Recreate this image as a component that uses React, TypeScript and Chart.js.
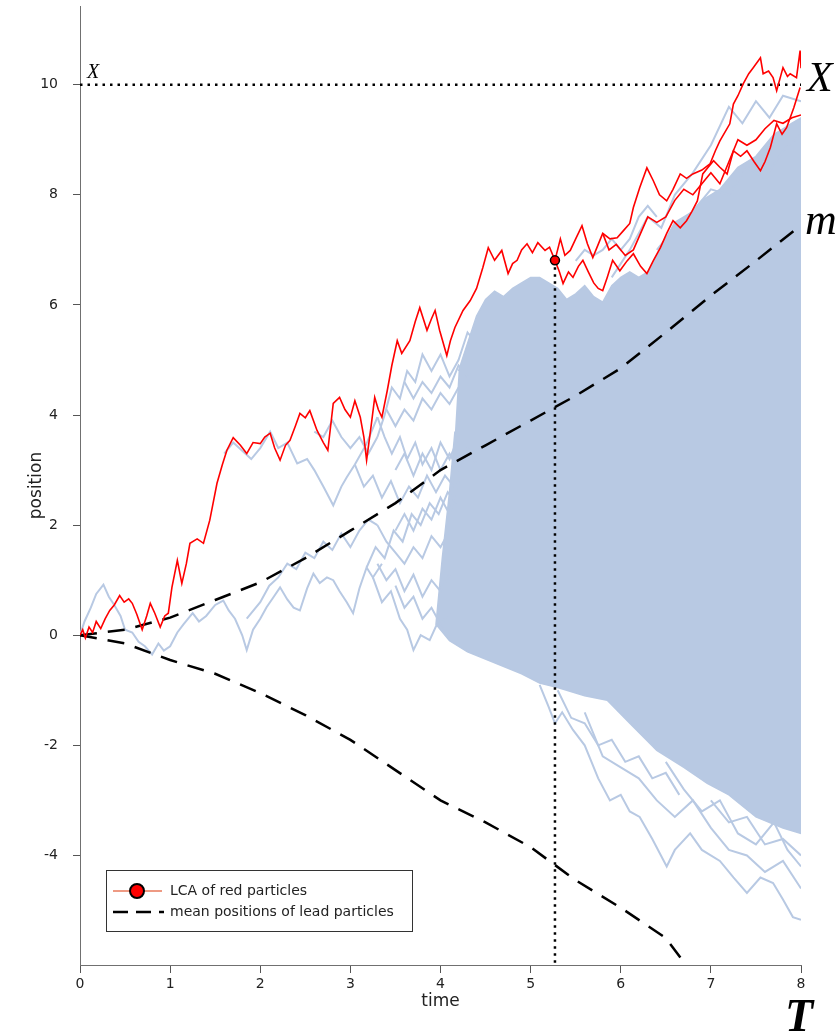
import React, { useEffect, useRef } from "react";
import { Chart, registerables } from "chart.js";
Chart.register(...registerables);

const BLUE = "#b8c9e3";
const RED = "#ff0000";

// axis ticks
const xTicks = [0, 1, 2, 3, 4, 5, 6, 7, 8];
const yTicks = [-4, -2, 0, 2, 4, 6, 8, 10];

// LCA time and position, target level X
const lcaT = 5.27;
const lcaY = 6.81;
const levelX = 10;

// red path up to the LCA
const redMainT = [0, 0.03, 0.06, 0.1, 0.14, 0.18, 0.23, 0.28, 0.33, 0.38, 0.44, 0.49, 0.54, 0.58, 0.63, 0.69, 0.74, 0.78, 0.83, 0.89, 0.94, 0.98, 1.02, 1.08, 1.13, 1.18, 1.22, 1.3, 1.37, 1.44, 1.52, 1.58, 1.63, 1.7, 1.78, 1.85, 1.92, 2.0, 2.05, 2.11, 2.16, 2.22, 2.28, 2.33, 2.39, 2.44, 2.5, 2.55, 2.63, 2.7, 2.75, 2.81, 2.88, 2.94, 3.0, 3.05, 3.11, 3.15, 3.18, 3.23, 3.27, 3.31, 3.35, 3.41, 3.46, 3.52, 3.57, 3.66, 3.72, 3.77, 3.85, 3.9, 3.94, 3.99, 4.07, 4.11, 4.16, 4.25, 4.33, 4.4, 4.47, 4.53, 4.6, 4.68, 4.75, 4.8, 4.85, 4.9, 4.96, 5.02, 5.08, 5.16, 5.21, 5.27];
const redMainY = [0, 0.1, -0.05, 0.15, 0.05, 0.25, 0.12, 0.3, 0.45, 0.55, 0.72, 0.6, 0.66, 0.58, 0.38, 0.1, 0.35, 0.58, 0.4, 0.15, 0.35, 0.4, 0.87, 1.36, 0.94, 1.3, 1.67, 1.75, 1.67, 2.09, 2.76, 3.1, 3.36, 3.59, 3.45, 3.3, 3.5, 3.48, 3.6, 3.67, 3.4, 3.18, 3.45, 3.54, 3.8, 4.03, 3.95, 4.08, 3.72, 3.5, 3.36, 4.21, 4.32, 4.1, 3.96, 4.26, 3.96, 3.6, 3.18, 3.8, 4.32, 4.1, 3.96, 4.45, 4.9, 5.35, 5.12, 5.35, 5.7, 5.95, 5.54, 5.75, 5.9, 5.54, 5.08, 5.35, 5.59, 5.9, 6.08, 6.3, 6.68, 7.04, 6.81, 6.99, 6.57, 6.75, 6.81, 7.0, 7.11, 6.95, 7.13, 6.99, 7.05, 6.81];

// red branches after the LCA
const redAT = [5.27, 5.33, 5.38, 5.44, 5.5, 5.57, 5.63, 5.69, 5.75, 5.8, 5.88, 5.96, 6.03, 6.1, 6.14, 6.21, 6.29, 6.36, 6.43, 6.51, 6.58, 6.66, 6.73, 6.8, 6.9, 6.99, 7.05, 7.1, 7.21, 7.25, 7.3, 7.36, 7.42, 7.47, 7.55, 7.58, 7.64, 7.69, 7.73, 7.8, 7.85, 7.88, 7.95, 7.99, 8.0];
const redAY = [6.81, 7.2, 6.9, 6.99, 7.2, 7.44, 7.11, 6.86, 7.1, 7.3, 7.2, 7.22, 7.35, 7.48, 7.77, 8.13, 8.49, 8.26, 8.0, 7.89, 8.1, 8.38, 8.3, 8.38, 8.45, 8.56, 8.8, 8.98, 9.29, 9.65, 9.8, 10.02, 10.2, 10.31, 10.49, 10.2, 10.25, 10.13, 9.89, 10.31, 10.15, 10.2, 10.13, 10.62, 10.3];
const redBT = [5.27, 5.32, 5.36, 5.42, 5.47, 5.53, 5.58, 5.64, 5.7, 5.75, 5.8, 5.85, 5.91, 5.99, 6.07, 6.14, 6.22, 6.29, 6.36, 6.44, 6.51, 6.58, 6.66, 6.73, 6.79, 6.85, 6.91, 6.97, 7.03, 7.1, 7.18, 7.25, 7.33, 7.4, 7.48, 7.55, 7.6, 7.66, 7.73, 7.79, 7.84, 7.92, 7.99];
const redBY = [6.81, 6.6, 6.39, 6.6, 6.5, 6.7, 6.81, 6.6, 6.4, 6.3, 6.26, 6.5, 6.81, 6.62, 6.8, 6.93, 6.7, 6.57, 6.8, 7.04, 7.3, 7.53, 7.4, 7.53, 7.7, 7.89, 8.38, 8.5, 8.62, 8.5, 8.38, 8.8, 8.7, 8.8, 8.6, 8.44, 8.6, 8.86, 9.29, 9.1, 9.22, 9.58, 9.95];
const redCT = [5.8, 5.87, 5.95, 6.05, 6.14, 6.22, 6.3, 6.4, 6.5, 6.6, 6.7, 6.8, 6.9, 7.0, 7.1, 7.2, 7.3, 7.4, 7.5, 7.6, 7.7, 7.8, 7.9, 8.0];
const redCY = [7.3, 7.0, 7.1, 6.9, 7.0, 7.3, 7.6, 7.5, 7.6, 7.9, 8.1, 8.0, 8.2, 8.4, 8.2, 8.6, 9.0, 8.9, 9.0, 9.2, 9.35, 9.3, 9.4, 9.45];

// mean positions of lead particles (upper and lower)
const meanT = [0, 0.5, 1, 1.5, 2, 2.5, 3, 3.5, 4, 4.5, 5, 5.5, 6, 6.5, 7, 7.5, 8];
const meanUpY = [0, 0.1, 0.32, 0.64, 0.96, 1.4, 1.9, 2.4, 3.0, 3.45, 3.9, 4.35, 4.85, 5.5, 6.17, 6.8, 7.45];
const meanLowY = [0, -0.15, -0.45, -0.7, -1.05, -1.45, -1.9, -2.45, -3.0, -3.4, -3.85, -4.45, -4.95, -5.5, -6.6, -7.3, -8.0];

// dense cloud of other particles (outline)
const cloudT = [4.2, 4.3, 4.4, 4.5, 4.6, 4.7, 4.8, 4.9, 5.0, 5.1, 5.2, 5.3, 5.4, 5.5, 5.6, 5.7, 5.8, 5.9, 6.0, 6.1, 6.2, 6.3, 6.4, 6.5, 6.6, 6.7, 6.8, 6.9, 7.0, 7.1, 7.2, 7.3, 7.4, 7.5, 7.6, 7.7, 7.8, 7.9, 8.0, 8.0, 7.8, 7.5, 7.2, 6.96, 6.7, 6.4, 6.1, 5.85, 5.6, 5.3, 5.1, 4.9, 4.6, 4.3, 4.1, 3.95, 4.02, 4.1, 4.16];
const cloudY = [4.8, 5.3, 5.8, 6.1, 6.25, 6.15, 6.3, 6.4, 6.5, 6.5, 6.4, 6.3, 6.1, 6.2, 6.35, 6.15, 6.05, 6.35, 6.5, 6.6, 6.5, 6.6, 6.9, 7.2, 7.5, 7.6, 7.7, 7.9, 8.0, 8.1, 8.3, 8.5, 8.6, 8.7, 8.9, 9.1, 9.2, 9.3, 9.4, -3.6, -3.5, -3.3, -2.9, -2.69, -2.4, -2.09, -1.6, -1.18, -1.1, -0.95, -0.87, -0.7, -0.5, -0.3, -0.1, 0.2, 1.4, 2.6, 3.7];

// individual other particles
const b1T = [0, 0.05, 0.12, 0.18, 0.26, 0.32, 0.38, 0.45, 0.5, 0.58, 0.65, 0.72, 0.8, 0.87, 0.93, 1.0, 1.08, 1.15, 1.25, 1.32, 1.4, 1.5, 1.59, 1.65, 1.72, 1.8, 1.85, 1.92, 2.0, 2.07, 2.15, 2.22, 2.3, 2.37, 2.44, 2.52, 2.59, 2.66, 2.74, 2.81, 2.88, 2.96, 3.03, 3.1, 3.18, 3.25, 3.35];
const b1Y = [0, 0.25, 0.5, 0.75, 0.92, 0.7, 0.55, 0.35, 0.1, 0.05, -0.12, -0.2, -0.35, -0.15, -0.28, -0.2, 0.05, 0.2, 0.4, 0.25, 0.35, 0.55, 0.63, 0.45, 0.3, 0.0, -0.27, 0.1, 0.3, 0.51, 0.7, 0.87, 0.65, 0.5, 0.45, 0.85, 1.12, 0.95, 1.05, 1.0, 0.8, 0.6, 0.4, 0.85, 1.23, 1.05, 1.3];
const b2T = [1.6, 1.7, 1.8, 1.9, 2.0, 2.11, 2.2, 2.3, 2.41, 2.52, 2.6, 2.7, 2.81, 2.9, 2.96, 3.05, 3.18, 3.3];
const b2Y = [3.3, 3.5, 3.35, 3.2, 3.4, 3.7, 3.4, 3.5, 3.12, 3.2, 3.0, 2.7, 2.36, 2.7, 2.87, 3.1, 3.48, 3.96];
const b3T = [2.6, 2.7, 2.8, 2.9, 3.0, 3.1, 3.2, 3.3];
const b3Y = [3.7, 3.6, 3.9, 3.6, 3.4, 3.6, 3.3, 3.6];
const b4T = [1.85, 2.0, 2.1, 2.2, 2.3, 2.4, 2.5, 2.6, 2.7, 2.8, 2.9, 3.0, 3.1, 3.2, 3.3];
const b4Y = [0.3, 0.6, 0.9, 1.05, 1.3, 1.2, 1.5, 1.4, 1.7, 1.55, 1.85, 1.6, 1.9, 2.1, 2.0];
const m1T = [3.18, 3.28, 3.38, 3.48, 3.58, 3.68, 3.78, 3.88, 3.98, 4.08, 4.18];
const m1Y = [1.23, 1.6, 1.4, 1.9, 1.7, 2.2, 2.0, 2.4, 2.2, 2.6, 2.4];
const m2T = [3.25, 3.35, 3.45, 3.55, 3.63, 3.7, 3.78, 3.88, 3.96, 4.05];
const m2Y = [1.05, 0.6, 0.8, 0.3, 0.1, -0.27, 0.0, -0.09, 0.2, 0.1];
const m3T = [3.05, 3.15, 3.25, 3.35, 3.45, 3.55, 3.65, 3.75, 3.85, 3.95, 4.05, 4.15];
const m3Y = [3.1, 2.7, 2.9, 2.5, 2.8, 2.4, 2.7, 2.5, 2.9, 2.6, 2.9, 2.7];
const m4T = [3.3, 3.38, 3.46, 3.55, 3.63, 3.72, 3.8, 3.9, 4.0, 4.1, 4.2, 4.3, 4.4];
const m4Y = [3.96, 3.6, 3.3, 3.6, 3.2, 3.5, 3.1, 3.4, 3.0, 3.3, 3.0, 3.4, 3.1];
const m5T = [3.3, 3.38, 3.46, 3.55, 3.63, 3.72, 3.8, 3.9, 4.0, 4.1, 4.2, 4.3, 4.4];
const m5Y = [3.6, 4.0, 4.5, 4.3, 4.8, 4.6, 5.1, 4.8, 5.1, 4.7, 5.0, 5.5, 5.3];
const m6T = [3.3, 3.4, 3.5, 3.6, 3.7, 3.8, 3.9, 4.0, 4.1];
const m6Y = [1.3, 1.0, 1.2, 0.8, 1.1, 0.7, 1.0, 0.8, 1.1];
const m7T = [3.4, 3.5, 3.6, 3.7, 3.8, 3.9, 4.0, 4.1, 4.2];
const m7Y = [4.1, 3.8, 4.1, 3.9, 4.3, 4.1, 4.4, 4.2, 4.5];
const m8T = [3.3, 3.4, 3.5, 3.6, 3.7, 3.8, 3.9, 4.0, 4.1];
const m8Y = [2.0, 1.7, 1.5, 1.3, 1.6, 1.4, 1.8, 1.6, 1.9];
const m9T = [3.5, 3.6, 3.7, 3.8, 3.9, 4.0, 4.1, 4.2];
const m9Y = [3.0, 3.3, 2.9, 3.3, 3.0, 3.5, 3.2, 3.6];
const m10T = [3.6, 3.7, 3.8, 3.9, 4.0, 4.1, 4.2, 4.3];
const m10Y = [4.6, 4.3, 4.6, 4.4, 4.7, 4.5, 4.9, 4.7];
const m11T = [3.5, 3.6, 3.7, 3.8, 3.9, 4.0, 4.1];
const m11Y = [0.9, 0.5, 0.7, 0.3, 0.5, 0.2, 0.4];
const m12T = [3.5, 3.6, 3.7, 3.8, 3.9, 4.0, 4.1, 4.2];
const m12Y = [1.9, 2.2, 1.9, 2.3, 2.1, 2.5, 2.2, 2.8];
const l1T = [5.1, 5.2, 5.27, 5.35, 5.47, 5.6, 5.75, 5.88, 6.0, 6.1, 6.21, 6.35, 6.51, 6.6, 6.77, 6.9, 7.1, 7.25, 7.4, 7.55, 7.69, 7.8, 7.91, 8.0];
const l1Y = [-0.9, -1.3, -1.6, -1.4, -1.72, -2.0, -2.6, -3.0, -2.9, -3.2, -3.3, -3.7, -4.2, -3.9, -3.6, -3.9, -4.1, -4.4, -4.68, -4.4, -4.5, -4.8, -5.12, -5.17];
const l2T = [5.6, 5.8, 6.0, 6.2, 6.4, 6.6, 6.8, 7.0, 7.2, 7.4, 7.6, 7.8, 8.0];
const l2Y = [-1.4, -2.2, -2.4, -2.6, -3.0, -3.3, -3.0, -3.5, -3.9, -4.0, -4.3, -4.1, -4.6];
const l3T = [6.5, 6.7, 6.9, 7.1, 7.3, 7.5, 7.7, 7.85, 8.0];
const l3Y = [-2.3, -2.8, -3.2, -3.0, -3.6, -3.8, -3.4, -3.9, -4.2];
const l4T = [5.3, 5.45, 5.6, 5.75, 5.9, 6.05, 6.2, 6.35, 6.5, 6.65];
const l4Y = [-1.0, -1.5, -1.6, -2.0, -1.9, -2.3, -2.2, -2.6, -2.5, -2.9];
const l5T = [7.0, 7.2, 7.4, 7.6, 7.8, 8.0];
const l5Y = [-3.0, -3.4, -3.3, -3.8, -3.7, -4.0];
const u1T = [5.9, 6.1, 6.3, 6.45, 6.6, 6.8, 7.0, 7.2, 7.35, 7.5, 7.65, 7.8, 8.0];
const u1Y = [6.5, 7.0, 7.6, 7.4, 8.0, 8.4, 8.9, 9.6, 9.3, 9.7, 9.4, 9.8, 9.7];
const u2T = [6.4, 6.6, 6.8, 7.0, 7.2, 7.4, 7.6, 7.8, 8.0];
const u2Y = [7.0, 7.4, 7.7, 8.1, 8.0, 8.5, 8.3, 8.8, 9.1];
const u3T = [5.5, 5.6, 5.7, 5.8, 5.9, 6.0, 6.1, 6.2, 6.3, 6.4];
const u3Y = [6.8, 7.0, 6.9, 7.0, 7.2, 7.0, 7.2, 7.6, 7.8, 7.6];

const pts = (t: number[], y: number[]) => t.map((x, i) => ({ x, y: y[i] }));

const lineDs = (data: any[], color: string, width: number, dash: number[] = []) => ({
  data,
  borderColor: color,
  backgroundColor: color,
  borderWidth: width,
  borderDash: dash,
  pointRadius: 0,
  tension: 0,
  fill: false,
});

export default function App() {
  const ref = useRef<HTMLCanvasElement>(null);
  useEffect(() => {
    document.body.style.margin = "0";
    const canvas = ref.current!;
    const annot = {
      id: "annot",
      afterDraw(chart: any) {
        const { ctx, chartArea: a, scales } = chart;
        const x = scales.x, y = scales.y;
        ctx.save();
        ctx.fillStyle = "#000";
        ctx.textBaseline = "alphabetic";
        ctx.textAlign = "left";
        ctx.font = 'italic 20px "Liberation Serif"';
        ctx.fillText("X", x.getPixelForValue(0) + 7, y.getPixelForValue(levelX) - 7);
        ctx.font = 'italic 42px "Liberation Serif"';
        ctx.fillText("X", a.right + 6, y.getPixelForValue(levelX) + 6);
        ctx.font = 'italic 44px "Liberation Serif"';
        ctx.fillText("m", a.right + 4, y.getPixelForValue(meanUpY[meanUpY.length - 1]) + 9);
        ctx.font = 'italic bold 46px "Liberation Serif"';
        ctx.fillText("T", a.right - 16, a.bottom + 66);
        // legend
        const lx = a.left + 26, ly = a.bottom - 95;
        ctx.fillStyle = "#fff";
        ctx.fillRect(lx + 0.5, ly + 0.5, 306, 61);
        ctx.strokeStyle = "#333";
        ctx.lineWidth = 1;
        ctx.strokeRect(lx + 0.5, ly + 0.5, 306, 61);
        ctx.strokeStyle = "#e8795a";
        ctx.lineWidth = 1.5;
        ctx.beginPath();
        ctx.moveTo(lx + 7, ly + 21);
        ctx.lineTo(lx + 56, ly + 21);
        ctx.stroke();
        ctx.beginPath();
        ctx.arc(lx + 31, ly + 21, 7, 0, Math.PI * 2);
        ctx.fillStyle = RED;
        ctx.fill();
        ctx.strokeStyle = "#000";
        ctx.lineWidth = 2;
        ctx.stroke();
        ctx.setLineDash([15, 8]);
        ctx.lineWidth = 2.5;
        ctx.beginPath();
        ctx.moveTo(lx + 7, ly + 42);
        ctx.lineTo(lx + 58, ly + 42);
        ctx.stroke();
        ctx.setLineDash([]);
        ctx.fillStyle = "#222";
        ctx.font = '14px "DejaVu Sans"';
        ctx.textBaseline = "middle";
        ctx.fillText("LCA of red particles", lx + 64, ly + 21);
        ctx.fillText("mean positions of lead particles", lx + 64, ly + 42);
        ctx.restore();
      },
    };

    const blueSets = [
      [b1T, b1Y], [b2T, b2Y], [b3T, b3Y], [b4T, b4Y],
      [m1T, m1Y], [m2T, m2Y], [m3T, m3Y], [m4T, m4Y], [m5T, m5Y], [m6T, m6Y], [m7T, m7Y], [m8T, m8Y],
      [m9T, m9Y], [m10T, m10Y], [m11T, m11Y], [m12T, m12Y],
      [l1T, l1Y], [l2T, l2Y], [l3T, l3Y], [l4T, l4Y], [l5T, l5Y],
      [u1T, u1Y], [u2T, u2Y], [u3T, u3Y],
    ].map(([t, v]) => lineDs(pts(t, v), BLUE, 2));

    const datasets: any[] = [
      {
        data: [{ x: lcaT, y: lcaY }],
        pointRadius: 4.5,
        pointBackgroundColor: RED,
        pointBorderColor: "#000",
        pointBorderWidth: 1.5,
        showLine: false,
      },
      lineDs(pts(redAT, redAY), RED, 1.6),
      lineDs(pts(redBT, redBY), RED, 1.6),
      lineDs(pts(redCT, redCY), RED, 1.6),
      lineDs(pts(redMainT, redMainY), RED, 1.6),
      lineDs([{ x: 0, y: levelX }, { x: 8, y: levelX }], "#000", 2.5, [2.5, 5]),
      lineDs([{ x: lcaT, y: lcaY }, { x: lcaT, y: -6 }], "#000", 2.5, [2.5, 4.5]),
      lineDs(pts(meanT, meanUpY), "#000", 2.5, [17, 11]),
      lineDs(pts(meanT, meanLowY), "#000", 2.5, [17, 11]),
      ...blueSets,
      { ...lineDs(pts(cloudT, cloudY), BLUE, 1.5), fill: "shape" },
    ];

    const font = { family: "DejaVu Sans", size: 14 };
    const chart = new Chart(canvas, {
      type: "line",
      data: { datasets },
      plugins: [annot],
      options: {
        responsive: false,
        animation: false,
        devicePixelRatio: 1,
        layout: { padding: { top: 5, right: 35, bottom: 0, left: 0 } },
        plugins: { legend: { display: false }, tooltip: { enabled: false } },
        scales: {
          x: {
            type: "linear",
            min: 0,
            max: 8,
            afterBuildTicks: (s: any) => { s.ticks = xTicks.map((v) => ({ value: v })); },
            afterFit: (s: any) => { s.height = 70; s.paddingLeft = 0; s.paddingRight = 0; },
            grid: { drawOnChartArea: false, drawTicks: true, tickLength: 8, color: "#555" },
            border: { display: true, color: "#707070", width: 1 },
            ticks: { color: "#222", font, padding: 3, maxRotation: 0 },
            title: { display: true, text: "time", color: "#222", font: { family: "DejaVu Sans", size: 17 }, padding: { top: 0, bottom: 23 } },
          },
          y: {
            type: "linear",
            min: -5.99,
            max: 11.43,
            afterBuildTicks: (s: any) => { s.ticks = yTicks.map((v) => ({ value: v })); },
            afterFit: (s: any) => { s.width = 80; s.paddingTop = 0; s.paddingBottom = 0; },
            grid: { drawOnChartArea: false, drawTicks: true, tickLength: 7, color: "#555" },
            border: { display: true, color: "#707070", width: 1 },
            ticks: { color: "#222", font, padding: 15 },
            title: { display: true, text: "position", color: "#222", font: { family: "DejaVu Sans", size: 17 }, padding: { top: 26, bottom: 0 } },
          },
        },
      } as any,
    });
    return () => chart.destroy();
  }, []);
  return (
    <div style={{ position: "absolute", left: 0, top: 0, width: 836, height: 1035 }}>
      <canvas ref={ref} width={836} height={1035} style={{ display: "block" }} />
    </div>
  );
}
